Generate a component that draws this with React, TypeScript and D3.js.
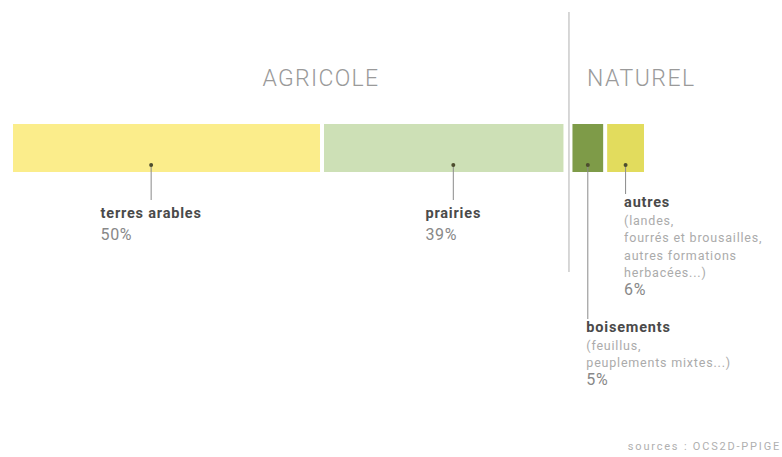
import React, { useEffect, useRef } from 'react';
import * as d3 from 'd3';

const CATEGORIES = ['terres arables', 'prairies', 'boisements', 'autres'];
const VALUES = [50, 39, 5, 6];
const GROUP_OF = [0, 0, 1, 1];
const GROUP_TITLES = ['AGRICOLE', 'NATUREL'];
const DESCRIPTIONS: string[][] = [
  [],
  [],
  ['(feuillus,', 'peuplements mixtes...)'],
  ['(landes,', 'fourrés et brousailles,', 'autres formations', 'herbacées...)'],
];
const PERCENT_LABELS = VALUES.map((v) => `${v}%`);
const SOURCE = 'sources : OCS2D-PPIGE';

const COLORS = ['#fbed8b', '#cde0b6', '#7e9b48', '#e2dc5d'];
const ANCHOR_FRAC = [0.45, 0.54, 0.5, 0.5];
const TITLE_Y = [218, 218, 332, 207];
const CENTERED = [true, true, false, false];

const W = 782;
const H = 457;
const FONT = 'Roboto, "DejaVu Sans", sans-serif';

export default function App() {
  const ref = useRef<SVGSVGElement>(null);

  useEffect(() => {
    const svg = d3.select(ref.current);
    svg.selectAll('*').remove();

    const x = d3.scaleLinear().domain([0, 100]).range([0, 614]);
    const barTop = 124;
    const barH = 48;
    const left = 13;
    const gapIn = 4;
    const gapOut = 9;

    const segs: { x0: number; x1: number }[] = [];
    let cursor = left;
    let cum = 0;
    VALUES.forEach((v, i) => {
      if (i > 0) cursor += GROUP_OF[i] !== GROUP_OF[i - 1] ? gapOut : gapIn;
      const w = x(cum + v) - x(cum);
      segs.push({ x0: cursor, x1: cursor + w });
      cursor += w;
      cum += v;
    });

    const dividerX = (segs[1].x1 + segs[2].x0) / 2 + 1;

    svg
      .append('line')
      .attr('x1', dividerX)
      .attr('x2', dividerX)
      .attr('y1', 12)
      .attr('y2', 272)
      .attr('stroke', '#bdbdbd')
      .attr('stroke-width', 1.2);

    // group titles
    svg
      .append('text')
      .attr('x', dividerX - 248)
      .attr('y', 86)
      .attr('text-anchor', 'middle')
      .attr('font-family', FONT)
      .attr('font-weight', 300)
      .attr('font-size', 23)
      .attr('letter-spacing', 1.3)
      .attr('fill', '#9a9a9a')
      .text(GROUP_TITLES[0]);
    svg
      .append('text')
      .attr('x', dividerX + 18)
      .attr('y', 86)
      .attr('text-anchor', 'start')
      .attr('font-family', FONT)
      .attr('font-weight', 300)
      .attr('font-size', 23)
      .attr('letter-spacing', 1.5)
      .attr('fill', '#9a9a9a')
      .text(GROUP_TITLES[1]);

    // bars
    svg
      .selectAll('rect.seg')
      .data(segs)
      .enter()
      .append('rect')
      .attr('class', 'seg')
      .attr('x', (d) => d.x0)
      .attr('y', barTop)
      .attr('width', (d) => d.x1 - d.x0)
      .attr('height', barH)
      .attr('fill', (_d, i) => COLORS[i]);

    // annotations
    segs.forEach((s, i) => {
      const ax = s.x0 + (s.x1 - s.x0) * ANCHOR_FRAC[i];
      const dotY = 165;
      const lineEnd = TITLE_Y[i] - (CENTERED[i] ? 18 : 13);
      svg
        .append('line')
        .attr('x1', ax)
        .attr('x2', ax)
        .attr('y1', dotY)
        .attr('y2', lineEnd)
        .attr('stroke', '#8a8a8a')
        .attr('stroke-width', 1);
      svg.append('circle').attr('cx', ax).attr('cy', dotY).attr('r', 2).attr('fill', '#4d4d2e');

      const g = svg.append('g');
      const title = g
        .append('text')
        .attr('x', 0)
        .attr('y', TITLE_Y[i])
        .attr('font-family', FONT)
        .attr('font-weight', 700)
        .attr('font-size', 14.5)
        .attr('letter-spacing', 0.8)
        .attr('fill', '#4a4a4a')
        .text(CATEGORIES[i]);
      let y = TITLE_Y[i];
      DESCRIPTIONS[i].forEach((line) => {
        y += 17.5;
        g.append('text')
          .attr('x', 0)
          .attr('y', y)
          .attr('font-family', FONT)
          .attr('font-size', 12.5)
          .attr('letter-spacing', 0.8)
          .attr('fill', '#ababab')
          .text(line);
      });
      y += DESCRIPTIONS[i].length ? 18 : 22;
      g.append('text')
        .attr('x', 0)
        .attr('y', y)
        .attr('font-family', FONT)
        .attr('font-size', 16)
        .attr('letter-spacing', 0.6)
        .attr('fill', '#888888')
        .text(PERCENT_LABELS[i]);

      const tw = (title.node() as SVGTextElement).getComputedTextLength();
      const tx = CENTERED[i] ? ax - tw / 2 : ax - 1.5;
      g.attr('transform', `translate(${tx},0)`);
    });

    svg
      .append('text')
      .attr('x', 781)
      .attr('y', 450)
      .attr('text-anchor', 'end')
      .attr('font-family', FONT)
      .attr('font-size', 11)
      .attr('letter-spacing', 1.8)
      .attr('fill', '#b0b0b0')
      .text(SOURCE);
  }, []);

  return (
    <svg
      ref={ref}
      width={W}
      height={H}
      style={{ position: 'absolute', left: 0, top: 0, background: '#fff' }}
    />
  );
}
